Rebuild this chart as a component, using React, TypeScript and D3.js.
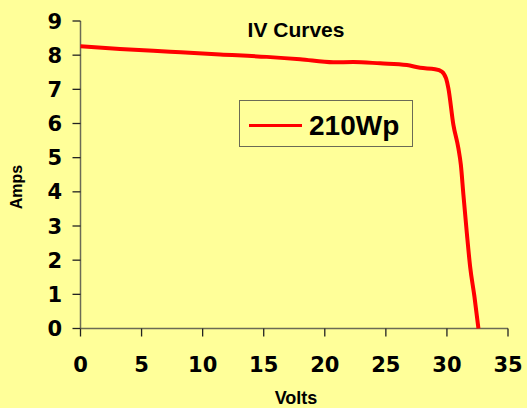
import React from "react";
import * as d3 from "d3";

const volts = [0, 3.23, 7.33, 11.43, 15.25, 17.98, 20.7, 22.34, 24.53, 26.72, 27.8, 29.03, 29.58, 29.93, 30.12, 30.53, 30.94, 31.14, 31.35, 31.63, 31.9, 32.25, 32.58];
const amps = [8.26, 8.18, 8.1, 8.02, 7.95, 7.88, 7.79, 7.8, 7.76, 7.71, 7.63, 7.59, 7.52, 7.32, 7.03, 5.96, 5.27, 4.79, 3.91, 2.79, 1.81, 0.94, 0];
const xTicks = [0, 5, 10, 15, 20, 25, 30, 35];
const yTicks = [0, 1, 2, 3, 4, 5, 6, 7, 8, 9];
const seriesName = "210Wp";
const title = "IV Curves";

const W = 527, H = 408;
const left = 80.5, right = 508, top = 21, bottom = 328.5;
const axisColor = "#6b6b55";
const tickFont = "'DejaVu Sans', Verdana, sans-serif";
const labelFont = "'Liberation Sans', Arial, sans-serif";

export default function App() {
  const x = d3.scaleLinear().domain([0, 35]).range([left, right]);
  const y = d3.scaleLinear().domain([0, 9]).range([bottom, top]);
  const pts: [number, number][] = volts.map((v, i) => [v, amps[i]]);
  const line = d3.line<[number, number]>()
    .x(d => x(d[0]))
    .y(d => y(d[1]))
    .curve(d3.curveMonotoneX);

  return (
    <svg width={W} height={H} style={{ position: "absolute", left: 0, top: 0, display: "block" }}>
      <rect x={0} y={0} width={W} height={H} fill="#FFFF99" />
      <text x={296} y={37} textAnchor="middle" fontFamily={labelFont} fontWeight="bold" fontSize={21} fill="#000">{title}</text>
      {/* y axis */}
      <line x1={left} x2={left} y1={top} y2={bottom} stroke={axisColor} strokeWidth={1.5} />
      {yTicks.map(t => (
        <g key={"y" + t}>
          <line x1={left - 8} x2={left} y1={y(t)} y2={y(t)} stroke="#222" strokeWidth={1.3} />
          <text x={62} y={y(t) + 7.5} textAnchor="end" fontFamily={tickFont} fontWeight="bold" fontSize={21} fill="#000">{t}</text>
        </g>
      ))}
      {/* x axis */}
      <line x1={left} x2={right} y1={bottom} y2={bottom} stroke={axisColor} strokeWidth={1.5} />
      {xTicks.map(t => (
        <g key={"x" + t}>
          <line x1={x(t)} x2={x(t)} y1={bottom} y2={bottom + 8} stroke="#222" strokeWidth={1.3} />
          <text x={x(t)} y={371.5} textAnchor="middle" fontFamily={tickFont} fontWeight="bold" fontSize={21} fill="#000">{t}</text>
        </g>
      ))}
      <path d={line(pts) || ""} fill="none" stroke="#FF0000" strokeWidth={4} strokeLinejoin="round" />
      {/* legend */}
      <rect x={239.5} y={100.5} width={173} height={46} fill="#FFFF99" stroke="#6b6b55" strokeWidth={1} />
      <line x1={249} x2={302} y1={125.5} y2={125.5} stroke="#FF0000" strokeWidth={3} />
      <text x={309} y={135} fontFamily={labelFont} fontWeight="bold" fontSize={28} fill="#000">{seriesName}</text>
      {/* axis titles */}
      <text transform="translate(22,187) rotate(-90)" textAnchor="middle" fontFamily={labelFont} fontWeight="bold" fontSize={16} fill="#000">Amps</text>
      <text x={296} y={404} textAnchor="middle" fontFamily={labelFont} fontWeight="bold" fontSize={18} fill="#000">Volts</text>
    </svg>
  );
}
